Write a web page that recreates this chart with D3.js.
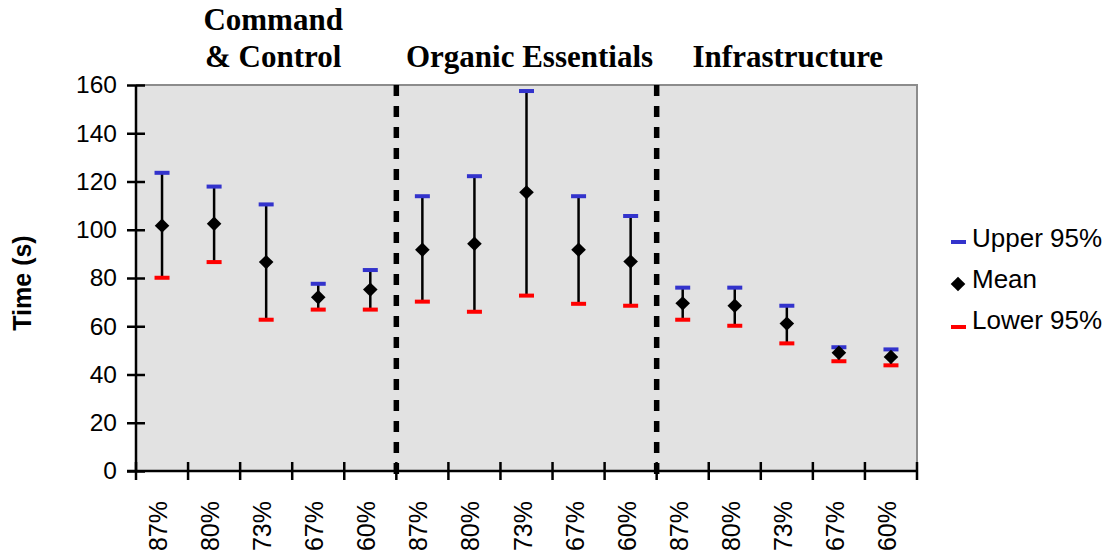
<html>
<head>
    <script type="text/javascript" src="https://cdnjs.cloudflare.com/ajax/libs/d3/7.8.5/d3.min.js"></script>
    <style>
        body { margin: 0; background: #fff; }
    </style>
</head>
<body>
    <div id="viz"></div>
    <script type="text/javascript">

    // data
    var groups = ["Command & Control", "Organic Essentials", "Infrastructure"];
    var levels = ["87%", "80%", "73%", "67%", "60%"];
    var meanVals  = [101.7, 102.5, 86.6, 72.0, 75.2,   91.7, 94.2, 115.5, 91.7, 86.8,   69.5, 68.5, 61.1, 49.0, 47.3];
    var upperVals = [123.6, 117.9, 110.5, 77.6, 83.3,  113.9, 122.2, 157.5, 113.9, 105.7, 76.0, 76.0, 68.5, 51.3, 50.4];
    var lowerVals = [80.1, 86.6, 62.7, 66.9, 66.9,     70.2, 66.0, 72.7, 69.3, 68.5,     62.7, 60.2, 52.9, 45.5, 43.8];
    var yTicks = [0, 20, 40, 60, 80, 100, 120, 140, 160];
    var legendItems = ["Upper 95%", "Mean", "Lower 95%"];

    var W = 1113, H = 554;
    var pLeft = 136, pRight = 917, pTop = 85, pBottom = 471;

    var svg = d3.select("#viz").append("svg")
        .attr("width", W)
        .attr("height", H)
        .style("font-family", "Liberation Sans, Arial, sans-serif");

    var ids = d3.range(groups.length * levels.length);
    var x = d3.scaleBand().domain(ids).range([pLeft, pRight]);
    var y = d3.scaleLinear().domain([0, 160]).range([pBottom, pTop]);

    // plot area
    svg.append("rect")
        .attr("x", pLeft).attr("y", pTop)
        .attr("width", pRight - pLeft).attr("height", pBottom - pTop)
        .style("fill", "#e2e2e2");
    svg.append("path")
        .attr("d", "M" + pLeft + "," + pTop + "H" + pRight + "V" + pBottom)
        .style("fill", "none")
        .style("stroke", "#8c8c8c")
        .style("stroke-width", 2);

    // y axis
    var yAxis = svg.append("g")
        .attr("transform", "translate(" + pLeft + ",0)")
        .call(d3.axisLeft(y).tickValues(yTicks).tickSize(9).tickPadding(10));
    yAxis.attr("font-size", null).attr("font-family", null);
    yAxis.select(".domain").remove();
    yAxis.selectAll(".tick line")
        .attr("x1", 9).attr("x2", -9)
        .style("stroke", "#000").style("stroke-width", 2.5);
    yAxis.selectAll(".tick text")
        .style("font-size", "24.5px")
        .style("fill", "#000");
    svg.append("line")
        .attr("x1", pLeft).attr("x2", pLeft)
        .attr("y1", pTop).attr("y2", pBottom + 1)
        .style("stroke", "#000").style("stroke-width", 2.5);

    // x axis (labels at band centres, ticks at band edges)
    var xAxis = svg.append("g")
        .attr("transform", "translate(0," + pBottom + ")")
        .call(d3.axisBottom(x).tickSize(0).tickFormat(function(i){ return levels[i % levels.length]; }));
    xAxis.attr("font-size", null).attr("font-family", null);
    xAxis.select(".domain").remove();
    xAxis.selectAll(".tick text")
        .attr("transform", "rotate(-90)")
        .attr("x", -30)
        .attr("y", 0)
        .attr("dy", "5px")
        .style("text-anchor", "end")
        .style("font-size", "25px")
        .style("fill", "#000");
    svg.append("line")
        .attr("x1", pLeft - 9).attr("x2", pRight)
        .attr("y1", pBottom).attr("y2", pBottom)
        .style("stroke", "#000").style("stroke-width", 2.5);
    svg.selectAll(".xtick")
        .data(d3.range(ids.length + 1))
        .enter().append("line")
        .attr("class", "xtick")
        .attr("x1", function(i){ return pLeft + i * x.step(); })
        .attr("x2", function(i){ return pLeft + i * x.step(); })
        .attr("y1", pBottom - 9).attr("y2", pBottom + 9)
        .style("stroke", "#000").style("stroke-width", 2.5);

    // dashed group separators
    svg.selectAll(".sep")
        .data(d3.range(1, groups.length))
        .enter().append("line")
        .attr("x1", function(g){ return x(g * levels.length); })
        .attr("x2", function(g){ return x(g * levels.length); })
        .attr("y1", pTop).attr("y2", pBottom + 9)
        .style("stroke", "#000")
        .style("stroke-width", 5.5)
        .style("stroke-dasharray", "11,10");

    // error bars
    var pts = svg.append("g");
    var cx = function(i){ return x(i) + x.bandwidth() / 2; };
    pts.selectAll(".bar")
        .data(ids).enter().append("line")
        .attr("x1", cx).attr("x2", cx)
        .attr("y1", function(i){ return y(lowerVals[i]); })
        .attr("y2", function(i){ return y(upperVals[i]); })
        .style("stroke", "#000").style("stroke-width", 2.5);
    pts.selectAll(".up")
        .data(ids).enter().append("rect")
        .attr("x", function(i){ return cx(i) - 7.5; })
        .attr("y", function(i){ return y(upperVals[i]) - 2; })
        .attr("width", 15).attr("height", 4)
        .style("fill", "#3333cc");
    pts.selectAll(".low")
        .data(ids).enter().append("rect")
        .attr("x", function(i){ return cx(i) - 7.5; })
        .attr("y", function(i){ return y(lowerVals[i]) - 2; })
        .attr("width", 15).attr("height", 4)
        .style("fill", "#ff0000");
    var diamond = "M0,-7.2L7.3,0L0,7.2L-7.3,0Z";
    pts.selectAll(".mean")
        .data(ids).enter().append("path")
        .attr("d", diamond)
        .attr("transform", function(i){ return "translate(" + cx(i) + "," + y(meanVals[i]) + ")"; })
        .style("fill", "#000");

    // group titles
    var titleShift = [7, 3, 1];
    var titles = svg.append("g")
        .style("font-family", "Liberation Serif, Times New Roman, serif")
        .style("font-weight", "bold")
        .style("font-size", "31px")
        .style("text-anchor", "middle");
    groups.forEach(function(g, k){
        var gx = x(k * levels.length) + x.step() * levels.length / 2 + titleShift[k];
        var t = titles.append("text").attr("x", gx).attr("y", 67);
        if (g.indexOf("&") >= 0) {
            var parts = g.split(" & ");
            titles.append("text").attr("x", gx).attr("y", 30).text(parts[0]);
            t.text("& " + parts[1]);
        } else {
            t.text(g);
        }
    });

    // y label
    svg.append("text")
        .attr("transform", "translate(31,283) rotate(-90)")
        .style("text-anchor", "middle")
        .style("font-weight", "bold")
        .style("font-size", "25px")
        .text("Time (s)");

    // legend
    var lg = svg.append("g").attr("transform", "translate(951,0)");
    legendItems.forEach(function(name, k){
        var base = 247 + k * 41;
        if (k == 0) lg.append("rect").attr("x", 0).attr("y", base - 7).attr("width", 15).attr("height", 4).style("fill", "#3333cc");
        if (k == 1) lg.append("path").attr("d", diamond).attr("transform", "translate(7," + (base - 4) + ")").style("fill", "#000");
        if (k == 2) lg.append("rect").attr("x", 0).attr("y", base - 4).attr("width", 15).attr("height", 4).style("fill", "#ff0000");
        lg.append("text").attr("x", 21).attr("y", base)
            .style("font-size", "26px")
            .text(name);
    });

    </script>
</body>
</html>
